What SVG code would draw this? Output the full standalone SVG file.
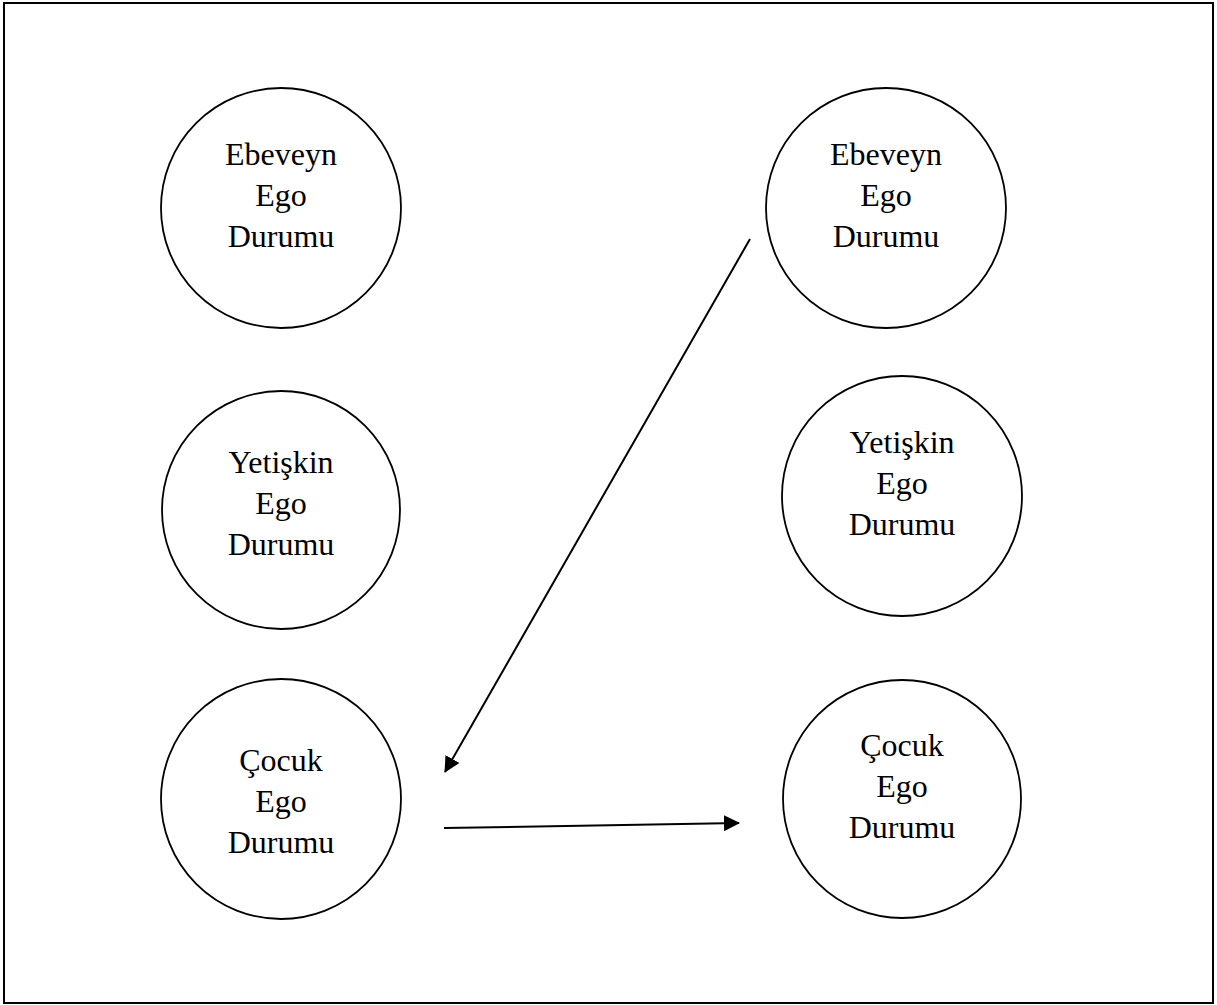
<svg xmlns="http://www.w3.org/2000/svg" width="1217" height="1005" viewBox="0 0 1217 1005">
<defs>
<style>
.frame{fill:#fff;stroke:#000;stroke-width:2}
.node circle{fill:#fff;stroke:#000;stroke-width:1.8}
.node text{font-family:"Liberation Serif","Times New Roman",serif;font-size:32px;fill:#000;text-anchor:middle}
.conn line{stroke:#000;stroke-width:2;fill:none}
</style>
<marker id="arrow" viewBox="0 0 16 16" refX="15" refY="8" markerWidth="16" markerHeight="16" markerUnits="userSpaceOnUse" orient="auto">
<path d="M0,0 L16,8 L0,16 z" fill="#000"/>
</marker>
</defs>
<rect width="1217" height="1005" fill="#fff"/>
<rect class="frame" x="4" y="3" width="1209" height="1000"/>
<g id="left-parent" class="node">
<circle cx="281" cy="208" r="120"/>
<text x="281" y="165">Ebeveyn</text>
<text x="281" y="206">Ego</text>
<text x="281" y="247">Durumu</text>
</g>
<g id="left-adult" class="node">
<circle cx="281" cy="510" r="119"/>
<text x="281" y="473">Yetişkin</text>
<text x="281" y="514">Ego</text>
<text x="281" y="555">Durumu</text>
</g>
<g id="left-child" class="node">
<circle cx="281" cy="799" r="120"/>
<text x="281" y="771">Çocuk</text>
<text x="281" y="812">Ego</text>
<text x="281" y="853">Durumu</text>
</g>
<g id="right-parent" class="node">
<circle cx="886" cy="208" r="120"/>
<text x="886" y="165">Ebeveyn</text>
<text x="886" y="206">Ego</text>
<text x="886" y="247">Durumu</text>
</g>
<g id="right-adult" class="node">
<circle cx="902" cy="496" r="120"/>
<text x="902" y="453">Yetişkin</text>
<text x="902" y="494">Ego</text>
<text x="902" y="535">Durumu</text>
</g>
<g id="right-child" class="node">
<circle cx="902" cy="799" r="119"/>
<text x="902" y="756">Çocuk</text>
<text x="902" y="797">Ego</text>
<text x="902" y="838">Durumu</text>
</g>
<g id="connectors" class="conn">
<line x1="750" y1="239" x2="445" y2="772" marker-end="url(#arrow)"/>
<line x1="444" y1="828" x2="739" y2="823" marker-end="url(#arrow)"/>
</g>
</svg>
